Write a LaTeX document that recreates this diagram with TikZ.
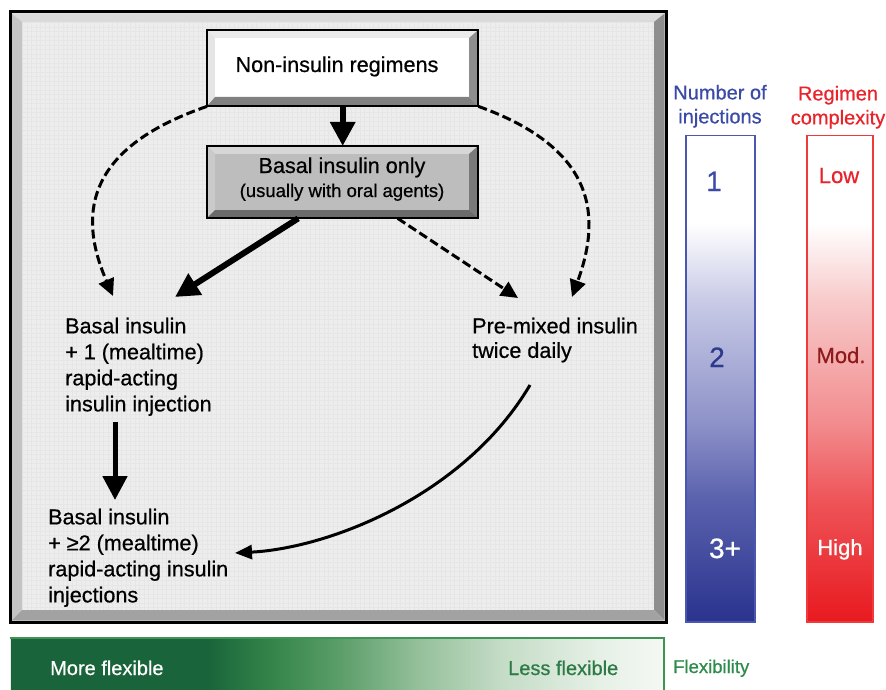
\documentclass[tikz,border=0pt]{standalone}
\usepackage{fontspec}
\setmainfont[FakeBold=0.6]{Liberation Sans}
\usetikzlibrary{arrows.meta}
\definecolor{face}{HTML}{EDEDED}
\definecolor{gridc}{HTML}{E6E6E6}
\definecolor{bevT}{HTML}{DADADA}
\definecolor{bevL}{HTML}{C4C4C4}
\definecolor{bevR}{HTML}{8E8E8E}
\definecolor{bevB}{HTML}{A2A2A2}
\definecolor{boxgray}{HTML}{BDBDBD}
\definecolor{bdark}{HTML}{2A338E}
\definecolor{bmidA}{HTML}{5A61AD}
\definecolor{bmidB}{HTML}{8D92C8}
\definecolor{bmidC}{HTML}{C8CAE6}
\definecolor{rdark}{HTML}{E81A20}
\definecolor{rmidA}{HTML}{EE5458}
\definecolor{rmidB}{HTML}{F28C8E}
\definecolor{rmidC}{HTML}{F8CACA}
\definecolor{gdark}{HTML}{19643A}
\definecolor{gA}{HTML}{35854A}
\definecolor{gB}{HTML}{5A9D68}
\definecolor{gC}{HTML}{93BF99}
\definecolor{gD}{HTML}{C4DCC6}
\definecolor{gE}{HTML}{E6F0E6}
\definecolor{gF}{HTML}{F4F8F4}
\definecolor{bluetxt}{HTML}{3B4AA6}
\definecolor{bluetwo}{HTML}{2E3A8C}
\definecolor{blueline}{HTML}{4A56B0}
\definecolor{redtxt}{HTML}{E8232B}
\definecolor{redline}{HTML}{EE3A3A}
\definecolor{modtxt}{HTML}{8E1B1B}
\definecolor{greentxt}{HTML}{2D7A47}
\definecolor{flextxt}{HTML}{2E8B4A}
\definecolor{greenline}{HTML}{3D9455}
% the path's box is mapped onto 25bp..75bp of the shading
\pgfdeclareverticalshading{blueshade}{100bp}{color(0bp)=(bdark); color(25bp)=(bdark); color(37.5bp)=(bmidA); color(45.5bp)=(bmidB); color(58bp)=(bmidC); color(66bp)=(white); color(75bp)=(white); color(100bp)=(white)}
\pgfdeclareverticalshading{redshade}{100bp}{color(0bp)=(rdark); color(25bp)=(rdark); color(37.5bp)=(rmidA); color(45.5bp)=(rmidB); color(58bp)=(rmidC); color(66bp)=(white); color(75bp)=(white); color(100bp)=(white)}
\pgfdeclarehorizontalshading{greenshade}{100bp}{color(0bp)=(gdark); color(25bp)=(gdark); color(40bp)=(gdark); color(45bp)=(gA); color(50bp)=(gB); color(56bp)=(gC); color(62.5bp)=(gD); color(70bp)=(gE); color(75bp)=(gF); color(100bp)=(gF)}
\tikzset{
  body/.style={inner sep=0pt, align=left, font=\fontsize{21.6}{26}\selectfont},
  thickarrow/.style={line width=6pt, -{Triangle[width=24pt,length=24pt]}},
  dasharrow/.style={line width=3pt, dash pattern=on 9pt off 4pt, -{Triangle[width=16pt,length=17pt]}},
  thinarrow/.style={line width=3pt, -{Triangle[width=14pt,length=17pt]}},
  barbox/.style={inner sep=0pt, anchor=north west, line width=1.5pt},
}
\begin{document}
\begin{tikzpicture}[x=1pt,y=-1pt]
\useasboundingbox (0,0) rectangle (886,690);
\fill[white] (0,0) rectangle (886,690);
% main frame
\node[inner sep=0pt, anchor=north west, minimum width=656pt, minimum height=610pt, fill=face] (frame) at (10,12) {};
\draw[gridc, line width=0.5pt, step=4.5pt] (22,22) grid (654,610);
\fill[bevT] (11.5,13.5) -- (664.5,13.5) -- (654,22) -- (22,22) -- cycle;
\fill[bevL] (11.5,13.5) -- (22,22) -- (22,610) -- (11.5,620.5) -- cycle;
\fill[bevR] (664.5,13.5) -- (664.5,620.5) -- (654,610) -- (654,22) -- cycle;
\fill[bevB] (11.5,620.5) -- (22,610) -- (654,610) -- (664.5,620.5) -- cycle;
\draw[line width=3pt] (frame.north west) rectangle (frame.south east);
% top box
\node[inner sep=0pt, anchor=north west, minimum width=271pt, minimum height=76pt, fill=white] (top) at (207,30) {};
\fill[white!92!black] (208,31) -- (477,31) -- (469,38) -- (215,38) -- cycle;
\fill[white!90!black] (208,31) -- (215,38) -- (215,97) -- (208,105) -- cycle;
\fill[white] (215,38) rectangle (469,97);
\fill[bevR] (477,31) -- (477,105) -- (469,97) -- (469,38) -- cycle;
\fill[bevR!90!black] (208,105) -- (477,105) -- (469,97) -- (215,97) -- cycle;
\draw[line width=2pt] (top.north west) rectangle (top.south east);
\node[anchor=base, inner sep=0pt, font=\fontsize{21.6}{26}\selectfont] (topT) at (337,72) {Non-insulin regimens};
% basal box
\node[inner sep=0pt, anchor=north west, minimum width=271pt, minimum height=72pt, fill=boxgray] (basal) at (207,146) {};
\fill[boxgray!60!white] (208,147) -- (477,147) -- (469,154) -- (215,154) -- cycle;
\fill[boxgray!80!white] (208,147) -- (215,154) -- (215,210) -- (208,217) -- cycle;
\fill[black!52] (477,147) -- (477,217) -- (469,210) -- (469,154) -- cycle;
\fill[black!58] (208,217) -- (477,217) -- (469,210) -- (215,210) -- cycle;
\draw[line width=2pt] (basal.north west) rectangle (basal.south east);
\node[anchor=base, inner sep=0pt, font=\fontsize{21.6}{26}\selectfont] (basalA) at (342,173) {Basal insulin only};
\node[anchor=base, inner sep=0pt, font=\fontsize{18.5}{22}\selectfont] (basalB) at (342,197) {(usually with oral agents)};
% regimen texts
\node[body, anchor=north west] (one) at (65,317.5) {Basal insulin\\+ 1 (mealtime)\\rapid-acting\\insulin injection};
\node[body, anchor=north west, font=\fontsize{21.6}{24.5}\selectfont] (premix) at (472,317.5) {Pre-mixed insulin\\twice daily};
\node[body, anchor=north west] (two) at (48,508.5) {Basal insulin\\+ ≥2 (mealtime)\\rapid-acting insulin\\injections};
% connector end points
\coordinate (oneL) at (113,296);
\coordinate (oneR) at (175,297);
\coordinate (preL) at (518,298);
\coordinate (preR) at (572,297);
\coordinate (oneD) at (115,422);
\coordinate (twoU) at (115,500);
\coordinate (preD) at (530,385);
\coordinate (twoR) at (235,553);
% connectors
\draw[thickarrow] (top.south) -- (basal.north);
\draw[dasharrow] (top.south west) .. controls (80,150) and (80,220) .. (oneL);
\draw[dasharrow] (top.south east) .. controls (600,150) and (600,220) .. (preR);
\draw[thickarrow] ([xshift=-44.5pt]basal.south) -- (oneR);
\draw[dasharrow] ([xshift=55pt]basal.south) -- (preL);
\draw[thickarrow, line width=5pt] (oneD) -- (twoU);
\draw[thinarrow] (preD) .. controls (465,495) and (330,548) .. (twoR);
% headers
\node[anchor=north, align=center, inner sep=0pt, text=bluetxt, font=\fontsize{20}{24}\selectfont] (injH) at (720,84.7) {Number of\\injections};
\node[anchor=north, align=center, inner sep=0pt, text=redtxt, font=\fontsize{20}{24}\selectfont] (cmpH) at (838,85.7) {Regimen\\complexity};
% bars
\node[barbox, minimum width=69pt, minimum height=486pt, shading=blueshade, draw=blueline] (injbar) at (685,135) {};
\node[barbox, minimum width=66pt, minimum height=486pt, shading=redshade, draw=redline] (cmpbar) at (806,135) {};
\node[anchor=base, inner sep=0pt, text=bluetxt, font=\fontsize{28}{30}\selectfont] (n1) at (714,191) {1};
\node[anchor=base, inner sep=0pt, text=bluetwo, font=\fontsize{28}{30}\selectfont] (n2) at (717,367) {2};
\node[anchor=base, inner sep=0pt, text=white, font=\fontsize{28}{30}\selectfont] (n3) at (725,558) {3+};
\node[anchor=base, inner sep=0pt, text=redtxt, font=\fontsize{22}{26}\selectfont] (cLow) at (839,183) {Low};
\node[anchor=base, inner sep=0pt, text=modtxt, font=\fontsize{22}{26}\selectfont] (cMod) at (841,363) {Mod.};
\node[anchor=base, inner sep=0pt, text=white, font=\fontsize{22}{26}\selectfont] (cHigh) at (840,555) {High};
% flexibility bar
\node[barbox, minimum width=654pt, minimum height=56pt, shading=greenshade] (flexbar) at (10,638) {};
\draw[greenline, line width=1.5pt] (10,638) -- (664,638) -- (664,694);
\node[anchor=base west, inner sep=0pt, text=white, font=\fontsize{20}{24}\selectfont] (more) at (50,675) {More flexible};
\node[anchor=base west, inner sep=0pt, text=greentxt, font=\fontsize{20}{24}\selectfont] (less) at (508,675) {Less flexible};
\node[anchor=base west, inner sep=0pt, text=flextxt, font=\fontsize{18.5}{22}\selectfont] (flexH) at (673,673) {Flexibility};
\end{tikzpicture}
\end{document}
